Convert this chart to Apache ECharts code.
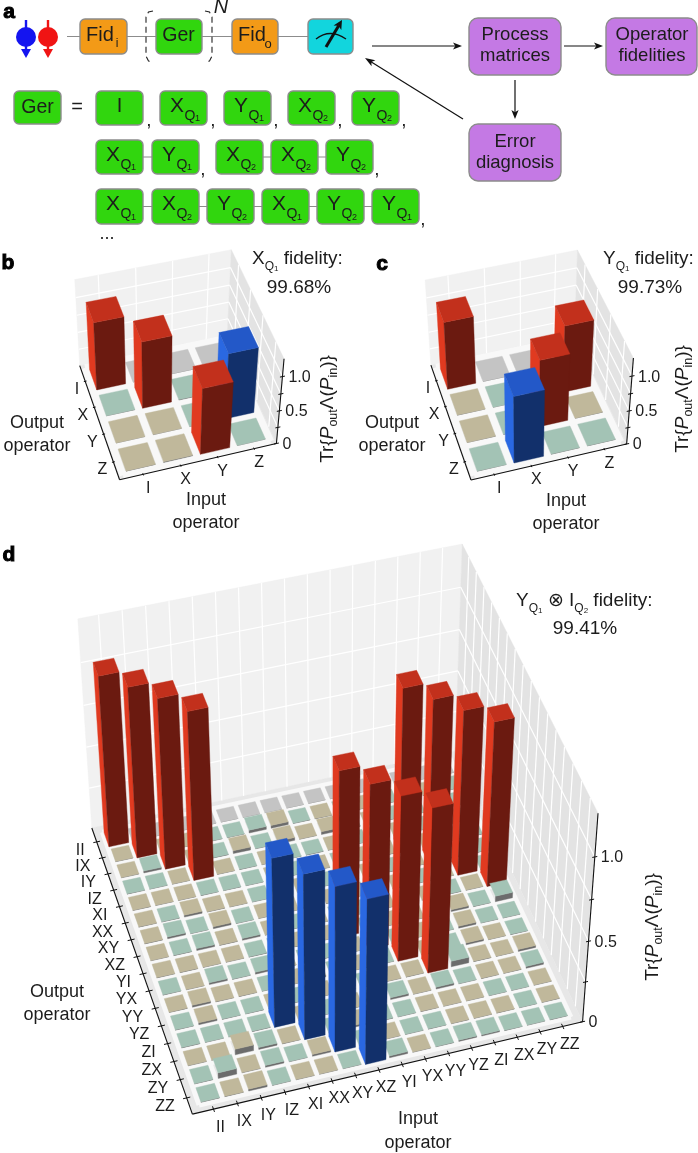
<!DOCTYPE html>
<html><head><meta charset="utf-8">
<style>html,body{margin:0;padding:0;background:#fff}#c{width:698px;height:1153px}</style>
<script src="https://cdn.jsdelivr.net/npm/echarts@6/dist/echarts.min.js"></script>
</head><body><div id="c"></div>
<script>
// ---------- data ----------
const singleTicks = ['I','X','Y','Z'];
const twoQubitTicks = ['II','IX','IY','IZ','XI','XX','XY','XZ','YI','YX','YY','YZ','ZI','ZX','ZY','ZZ'];
const zTicks = [0,0.25,0.5,0.75,1.0];
const zLabels = {0:'0',0.5:'0.5',1:'1.0'};
const gatesRow1 = [['I'],['X','Q','1'],['Y','Q','1'],['X','Q','2'],['Y','Q','2']];
const gatesRow2a = [['X','Q','1'],['Y','Q','1']];
const gatesRow2b = [['X','Q','2'],['X','Q','2'],['Y','Q','2']];
const gatesRow3 = [['X','Q','1'],['X','Q','2'],['Y','Q','2'],['X','Q','1'],['Y','Q','2'],['Y','Q','1']];
// rows: output operator, columns: input operator
const matrixXQ1 = [
 [ .99, 0, 0, 0],
 [-.002, .98,-.008,-.002],
 [ .002, .002,-.002,-.97],
 [ .002, .01, .98,-.002]];
const matrixYQ1 = [
 [ .99, 0, 0, 0],
 [ .002,-.002,-.002, .98],
 [ .002,-.002, .98, .002],
 [-.002,-.98,-.002,-.002]];
const matrixYI = [
 [1.03,0,0,0,0,0,0,0,0,0,0,0,0,0,0,0],
 [.002,1.03,.002,.002,-.002,-.002,-.018,.018,-.002,.002,-.002,.002,-.002,.002,.002,-.002],
 [.002,-.012,1.03,.002,-.002,.018,-.002,.018,.002,.018,-.002,.002,-.002,-.002,.002,-.002],
 [-.002,-.002,.002,1.02,.002,-.002,.002,-.002,-.002,.002,-.002,.002,.002,-.002,.002,-.002],
 [.002,.002,.002,-.002,-.002,-.002,.002,-.002,.002,-.002,.002,.002,1.0,.002,-.002,-.002],
 [.002,-.002,.012,.002,.002,-.002,-.002,.002,-.002,.002,.002,-.002,.002,1.0,-.008,-.002],
 [.002,-.012,-.002,.012,-.002,.002,.002,-.012,.002,.002,-.002,.002,-.002,.002,1.0,-.002],
 [.002,-.002,-.012,.002,-.012,.002,-.002,.002,-.002,-.002,.002,-.002,.002,-.002,.002,1.0],
 [.002,.002,.002,.002,-.002,-.002,.002,.002,1.01,-.002,.002,.002,.002,.012,-.002,-.035],
 [-.002,.002,-.012,-.002,-.012,.002,-.002,-.002,.002,1.0,-.002,.002,-.002,.012,-.002,-.002],
 [.002,.012,.002,.002,-.002,.002,.012,-.002,.002,-.002,1.0,.002,-.002,.012,.002,-.002],
 [-.002,.012,-.002,-.002,.002,-.002,.002,.002,-.002,.002,.002,1.0,-.035,.002,.002,.012],
 [-.002,-.002,-.002,-.002,-1.02,.002,-.002,.002,-.002,-.012,.002,-.012,-.002,.002,.002,-.012],
 [.002,.002,.035,-.012,.002,-1.0,-.002,.012,-.002,-.002,.002,.002,.002,-.002,-.002,.002],
 [-.002,-.035,.002,-.012,-.002,.012,-1.0,-.002,.002,-.002,-.002,.002,.002,.002,-.002,.002],
 [-.002,.002,.012,-.002,.002,.002,-.002,-1.0,-.012,.002,-.002,-.008,-.008,-.002,-.002,-.002]];

// ---------- helpers ----------
const FONT='"Liberation Sans", Arial, sans-serif';
const INK='#1c1c1c';
function solve(A,b){const n=A.length;const M=A.map((r,i)=>[...r,b[i]]);
 for(let i=0;i<n;i++){let p=i;for(let k=i+1;k<n;k++)if(Math.abs(M[k][i])>Math.abs(M[p][i]))p=k;[M[i],M[p]]=[M[p],M[i]];
  for(let k=i+1;k<n;k++){const f=M[k][i]/M[i][i];for(let j=i;j<=n;j++)M[k][j]-=f*M[i][j];}}
 const x=Array(n).fill(0);for(let i=n-1;i>=0;i--){let s=M[i][n];for(let j=i+1;j<n;j++)s-=M[i][j]*x[j];x[i]=s/M[i][i];}return x;}
const ZMAX=1.25;
// fit a projective camera to the corners of the box: floor, back wall, axis
function camera(c){
 const pts=[[0,1,0,c.FL],[1,1,0,c.FR],[0,0,0,c.BL],[1,0,0,c.BR],[0,0,ZMAX,c.TL],[1,0,ZMAX,c.TB],[1,1,ZMAX,c.TA]];
 const rows=[],rhs=[];
 pts.forEach(([x,y,z,p])=>{
  rows.push([x,y,z,1,0,0,0,0,-p[0]*x,-p[0]*y,-p[0]*z]);rhs.push(p[0]);
  rows.push([0,0,0,0,x,y,z,1,-p[1]*x,-p[1]*y,-p[1]*z]);rhs.push(p[1]);});
 const n=11,A=[],b=[];
 for(let i=0;i<n;i++){A.push(Array(n).fill(0));b.push(0);
  rows.forEach((r,k)=>{for(let j=0;j<n;j++)A[i][j]+=r[i]*r[j];b[i]+=r[i]*rhs[k];});}
 const s=solve(A,b);
 return (x,y,z)=>{const w=s[8]*x+s[9]*y+s[10]*z+1;
  return [(s[0]*x+s[1]*y+s[2]*z+s[3])/w,(s[4]*x+s[5]*y+s[6]*z+s[7])/w];};
}
const poly=(points,fill,z2,stroke,lw)=>({type:'polygon',z2:z2||0,silent:true,shape:{points},style:{fill,stroke:stroke||fill,lineWidth:lw===undefined?0.4:lw}});
const seg=(a,b,stroke,lw,z2)=>({type:'line',z2:z2||0,silent:true,shape:{x1:a[0],y1:a[1],x2:b[0],y2:b[1]},style:{stroke,lineWidth:lw,fill:null}});
const txt=(text,x,y,size,align,opts)=>Object.assign({type:'text',silent:true,z2:50,style:Object.assign({text,x,y,fontSize:size,fontFamily:FONT,fill:INK,align:align||'center',verticalAlign:'middle'},opts||{})});
const mctx=document.createElement('canvas').getContext('2d');
function tw(t,size,style){mctx.font=(style||'')+' '+size+'px '+FONT;return mctx.measureText(t).width;}
// horizontal or rotated run of text pieces [text,size,dy,style]
function textRun(x,y,pieces,rot){const out=[];let p=0;rot=rot||0;const c=Math.cos(rot),s=Math.sin(rot);
 pieces.forEach(([t,size,dy,st,gap])=>{p+=(gap||0);
  out.push({type:'text',silent:true,z:20,x:x+c*p+s*(dy||0),y:y-s*p+c*(dy||0),rotation:rot,
   style:{text:t,x:0,y:0,fontSize:size,fontFamily:FONT,fontStyle:st||'normal',fill:INK,align:'left',verticalAlign:'middle'}});
  p+=tw(t,size,st);});return {els:out,len:p};}
function centered(cx,cy,pieces,rot){const L=textRun(0,0,pieces,rot).len;rot=rot||0;
 return textRun(cx-Math.cos(rot)*L/2,cy+Math.sin(rot)*L/2,pieces,rot).els;}

// ---------- 3D panels ----------
function panelSeries(id,c,matrix,ticks,o){
 const P=camera(c),n=ticks.length,m=o.margin,total=n+2*m;
 const tick=i=>(i+.5+m)/total, edge=i=>(i+m)/total;
 const frame={type:'custom',name:id+' frame',coordinateSystem:'none',z:2,silent:true,animation:false,data:[[0]],
  renderItem(){
   const ch=[];
   ch.push(poly([P(0,0,0),P(1,0,0),P(1,0,ZMAX),P(0,0,ZMAX)],'#f1f1f1'));
   ch.push(poly([P(1,0,0),P(1,1,0),P(1,1,ZMAX),P(1,0,ZMAX)],'#e3e3e3'));
   ch.push(poly([P(0,0,0),P(1,0,0),P(1,1,0),P(0,1,0)],'#e7e7e7'));
   for(let i=0;i<n;i++){
    ch.push(seg(P(tick(i),0,0),P(tick(i),0,ZMAX),'#fff',o.wallLine));
    ch.push(seg(P(1,tick(i),0),P(1,tick(i),ZMAX),'#fff',o.wallLine));
   }
   zTicks.forEach(z=>{if(z>0){
    ch.push(seg(P(0,0,z),P(1,0,z),'#fff',o.wallLine));
    ch.push(seg(P(1,0,z),P(1,1,z),'#fff',o.wallLine));}});
   for(let i=0;i<=n;i++){
    ch.push(seg(P(edge(i),edge(0),0),P(edge(i),edge(n),0),'#f8f8f8',o.gap));
    ch.push(seg(P(edge(0),edge(i),0),P(edge(n),edge(i),0),'#f8f8f8',o.gap));
   }
   // axes
   ch.push(seg(P(0,0,0),P(0,1,0),'#111',1.1,40));
   ch.push(seg(P(0,1,0),P(1,1,0),'#111',1.1,40));
   ch.push(seg(P(1,1,0),P(1,1,ZMAX),'#111',1.1,40));
   ticks.forEach((t,i)=>{
    const r=P(0,tick(i),0),q=P(tick(i),1,0);
    ch.push(seg(P(-.018*o.tk,tick(i),0),P(.018*o.tk,tick(i),0),'#111',1,40));
    ch.push(seg(P(tick(i),1-.018*o.tk,0),P(tick(i),1+.018*o.tk,0),'#111',1,40));
    ch.push(txt(t,r[0]+o.rowDx,r[1]+o.rowDy,o.tickSize,'right'));
    ch.push(txt(t,q[0]+o.colDx,q[1]+o.colDy,o.tickSize,'center'));
   });
   zTicks.forEach(z=>{const a=P(1,1,z);
    ch.push(seg([a[0]-2.5,a[1]+.5],[a[0]+2.5,a[1]-.5],'#111',1,40));
    if(zLabels[z]!==undefined)ch.push(txt(zLabels[z],a[0]+o.zDx,a[1]+1,o.tickSize,'left'));
   });
   return {type:'group',children:ch};
  }};
 const data=[];
 matrix.forEach((row,r)=>row.forEach((v,cIdx)=>data.push([cIdx,r,v])));
 data.sort((a,b)=>a[1]-b[1]||b[0]-a[0]);
 const bars={type:'custom',name:id+' bars',coordinateSystem:'none',z:3,silent:true,animation:false,data,
  encode:{x:0,y:1,value:2},
  renderItem(params,api){
   const ci=api.value(0),ri=api.value(1),v=api.value(2),h=Math.abs(v),z2=params.dataIndex+1;
   const big=h>0.5,F=big?o.frac:o.tileFrac;
   const x0=tick(ci)-F/2/total,x1=tick(ci)+F/2/total,y0=tick(ri)-F/2/total,y1=tick(ri)+F/2/total;
   let top,front,left;
   if(big){ if(v>0){top='#c2301c';front='#6b1a10';left='#e03a20';} else {top='#2358c8';front='#12306b';left='#2a68e2';} }
   else { top=v>0?'#c0b89b':(v<0?'#a3c3b5':'#c4c4c4'); front='#6c6c6c'; }
   const ch=[];
   if(big)ch.push(poly([P(x0,y0,0),P(x0,y1,0),P(x0,y1,h),P(x0,y0,h)],left,z2));
   ch.push(poly([P(x0,y1,0),P(x1,y1,0),P(x1,y1,h),P(x0,y1,h)],front,z2));
   ch.push(poly([P(x0,y0,h),P(x1,y0,h),P(x1,y1,h),P(x0,y1,h)],top,z2));
   return {type:'group',children:ch};
  }};
 return [frame,bars];
}
const optB={margin:.12,frac:.8,tileFrac:.78,wallLine:1.2,gap:7,tk:.5,tickSize:16,rowDx:-6,rowDy:8,colDx:5,colDy:14,zDx:6};
const optD={margin:.38,frac:.88,tileFrac:.78,wallLine:1.2,gap:5,tk:.5,tickSize:16,rowDx:-12,rowDy:9,colDx:7,colDy:18,zDx:6};
const series=[].concat(
 panelSeries('b',{FL:[120,480],FR:[277,444],BL:[80,365],BR:[226,335],TL:[74,280],TB:[233,250],TA:[283,358]},matrixXQ1,singleTicks,optB),
 panelSeries('c',{FL:[471,480],FR:[627,444],BL:[431,365],BR:[574,335],TL:[425,280],TB:[578,250],TA:[633,358]},matrixYQ1,singleTicks,optB),
 panelSeries('d',{FL:[193,1114],FR:[582,1023],BL:[92,828],BR:[455,750],TL:[77,619],TB:[463,545],TA:[598,812]},matrixYI,twoQubitTicks,optD)
);

// ---------- panel a: flow diagram ----------
const G=[];
const GREY='#8c8c8c';
function box(x0,y0,x1,y1,fill,r){G.push({type:'rect',z:10,shape:{x:x0,y:y0,width:x1-x0,height:y1-y0,r:r||5},style:{fill,stroke:GREY,lineWidth:1.4}});}
function line(x0,y0,x1,y1,c,w){G.push({type:'line',z:9,shape:{x1:x0,y1:y0,x2:x1,y2:y1},style:{stroke:c||GREY,lineWidth:w||1}});}
function arrow(x0,y0,x1,y1,c,w,hl,hw){const a=Math.atan2(y1-y0,x1-x0),ca=Math.cos(a),sa=Math.sin(a);
 G.push({type:'line',z:11,shape:{x1:x0,y1:y0,x2:x1-ca*hl*.7,y2:y1-sa*hl*.7},style:{stroke:c,lineWidth:w}});
 G.push({type:'polygon',z:11,shape:{points:[[x1,y1],[x1-ca*hl-sa*hw,y1-sa*hl+ca*hw],[x1-ca*hl*.75,y1-sa*hl*.75],[x1-ca*hl+sa*hw,y1-sa*hl-ca*hw]]},style:{fill:c}});}
function plain(t,x,y,size,extra){G.push({type:'text',z:20,x,y,style:Object.assign({text:t,x:0,y:0,fontSize:size,fontFamily:FONT,fill:INK,align:'center',verticalAlign:'middle'},extra||{})});}
function gate(x,y0,y1,g){box(x,y0,x+47,y1,'#31d60e',5);const mid=(y0+y1)/2;
 if(g.length===1){plain(g[0],x+23.5,mid-2,20);return;}
 plain(g[0],x+17,mid-2,21);plain(g[1],x+30,mid+8,14);plain(g[2],x+37.5,mid+11,9);}
// spins
[[26,'#1414f0'],[48,'#f01414']].forEach(([x,c])=>{
 G.push({type:'line',z:10,shape:{x1:x,y1:20,x2:x,y2:52},style:{stroke:c,lineWidth:2.4}});
 G.push({type:'circle',z:10,shape:{cx:x,cy:37,r:10},style:{fill:c}});
 G.push({type:'polygon',z:10,shape:{points:[[x-5,49],[x+5,49],[x,58]]},style:{fill:c}});});
line(67,36.5,308,36.5);
box(80,19,127,54,'#f39a17');box(156,19,202,54,'#31d60e');box(232,19,278,54,'#f39a17');box(308,19,353,54,'#12d5dd');
plain('Fid',100,35,20);plain('i',117,44,12);
plain('Ger',178.5,36,19.5);
plain('Fid',252,35,20);plain('o',268,44,13);
// dashed brackets
G.push({type:'polyline',z:12,shape:{points:[[153,11],[148.5,12],[146,17],[146,56],[148.5,61],[153,62]]},style:{fill:null,stroke:'#222',lineWidth:1.1,lineDash:[6,4]}});
G.push({type:'polyline',z:12,shape:{points:[[205,11],[209.5,12],[212,17],[212,56],[209.5,61],[205,62]]},style:{fill:null,stroke:'#222',lineWidth:1.1,lineDash:[6,4]}});
plain('N',221,7,20,{fontStyle:'italic'});
// meter
G.push({type:'bezierCurve',z:12,shape:{x1:316,y1:39,x2:346,y2:39,cpx1:330,cpy1:28},style:{fill:null,stroke:'#111',lineWidth:1.4}});
arrow(326,47,342,20,'#111',3,9,4.5);
// flow arrows
arrow(372,46,462,46,'#111',1.2,9,3.6);
arrow(564,46,603,46,'#111',1.2,9,3.6);
arrow(515,80,515,119,'#111',1.2,9,3.6);
arrow(463,119,365,58,'#111',1.2,10,3.6);
// purple boxes
box(469,18,561,75,'#c479e4',9);box(606,18,697,75,'#c479e4',9);box(469,124,561,181,'#c479e4',9);
plain('Process',515,35,18.5);plain('matrices',515,56,18.5);
plain('Operator',652,35,18.5);plain('fidelities',652,56,18.5);
plain('Error',515,142,18.5);plain('diagnosis',515,163,18.5);
// Ger rows
box(14,91,61,124,'#31d60e');plain('Ger',37.5,107.5,19.5);plain('=',77,107,20);
[96,160,224,288,352].forEach((x,i)=>gate(x,91,125,gatesRow1[i]));
[149,213,276,340,404].forEach(x=>plain(',',x,121,19));
line(143,157,152,157);line(263,157,271,157);line(318,157,326,157);
[96,152].forEach((x,i)=>gate(x,140,174,gatesRow2a[i]));
[216,271,326].forEach((x,i)=>gate(x,140,174,gatesRow2b[i]));
plain(',',203,170,19);plain(',',377,170,19);
line(143,206.5,372,206.5);
[96,152,207,262,317,372].forEach((x,i)=>gate(x,189,224,gatesRow3[i]));
plain(',',423,220,19);plain('...',107,234,18);
// panel letters
const bold={fontWeight:'bold',stroke:'#000',lineWidth:1,fill:'#000'};
plain('a',9,12,21,bold);plain('b',8,263,21,bold);plain('c',382,264,21,bold);plain('d',9,555,21,bold);
// annotations
const S=19;
function pushEls(a){a.forEach(e=>G.push(e));}
pushEls(textRun(252,259,[['X',S,0],['Q',12,8,'',0],['1',8,10],[' fidelity:',S,0,'',0]]).els);
plain('99.68%',299,288,S);
pushEls(textRun(603,259,[['Y',S,0],['Q',12,8,'',0],['1',8,10],[' fidelity:',S,0,'',0]]).els);
plain('99.73%',650,288,S);
pushEls(textRun(516,601,[['Y',S,0],['Q',12,8,'',0],['1',8,10],[' \u2297 ',S,0],['I',S,0],['Q',12,8,'',0],['2',8,10],[' fidelity:',S,0,'',0]]).els);
plain('99.41%',585,629,S);
[[37,423,446],[392,423,446],[57,992,1015]].forEach(([x,a,b])=>{plain('Output',x,a,18);plain('operator',x,b,18);});
[[206,500,523],[566,501,524],[418,1119,1143]].forEach(([x,a,b])=>{plain('Input',x,a,18);plain('operator',x,b,18);});
const trLabel=[['Tr{',S,0],['P',S,0,'italic'],['out',12.5,6],['\u039B(',S,0],['P',S,0,'italic'],['in',12.5,6],[')}',S,0]];
pushEls(centered(328,409,trLabel,Math.PI/2));
pushEls(centered(683,399,trLabel,Math.PI/2));
pushEls(centered(653,927,trLabel,Math.PI/2));

const chart=echarts.init(document.getElementById('c'),null,{renderer:'canvas',width:698,height:1153});
chart.setOption({animation:false,backgroundColor:'#fff',series,graphic:{elements:G}});
</script></body></html>
